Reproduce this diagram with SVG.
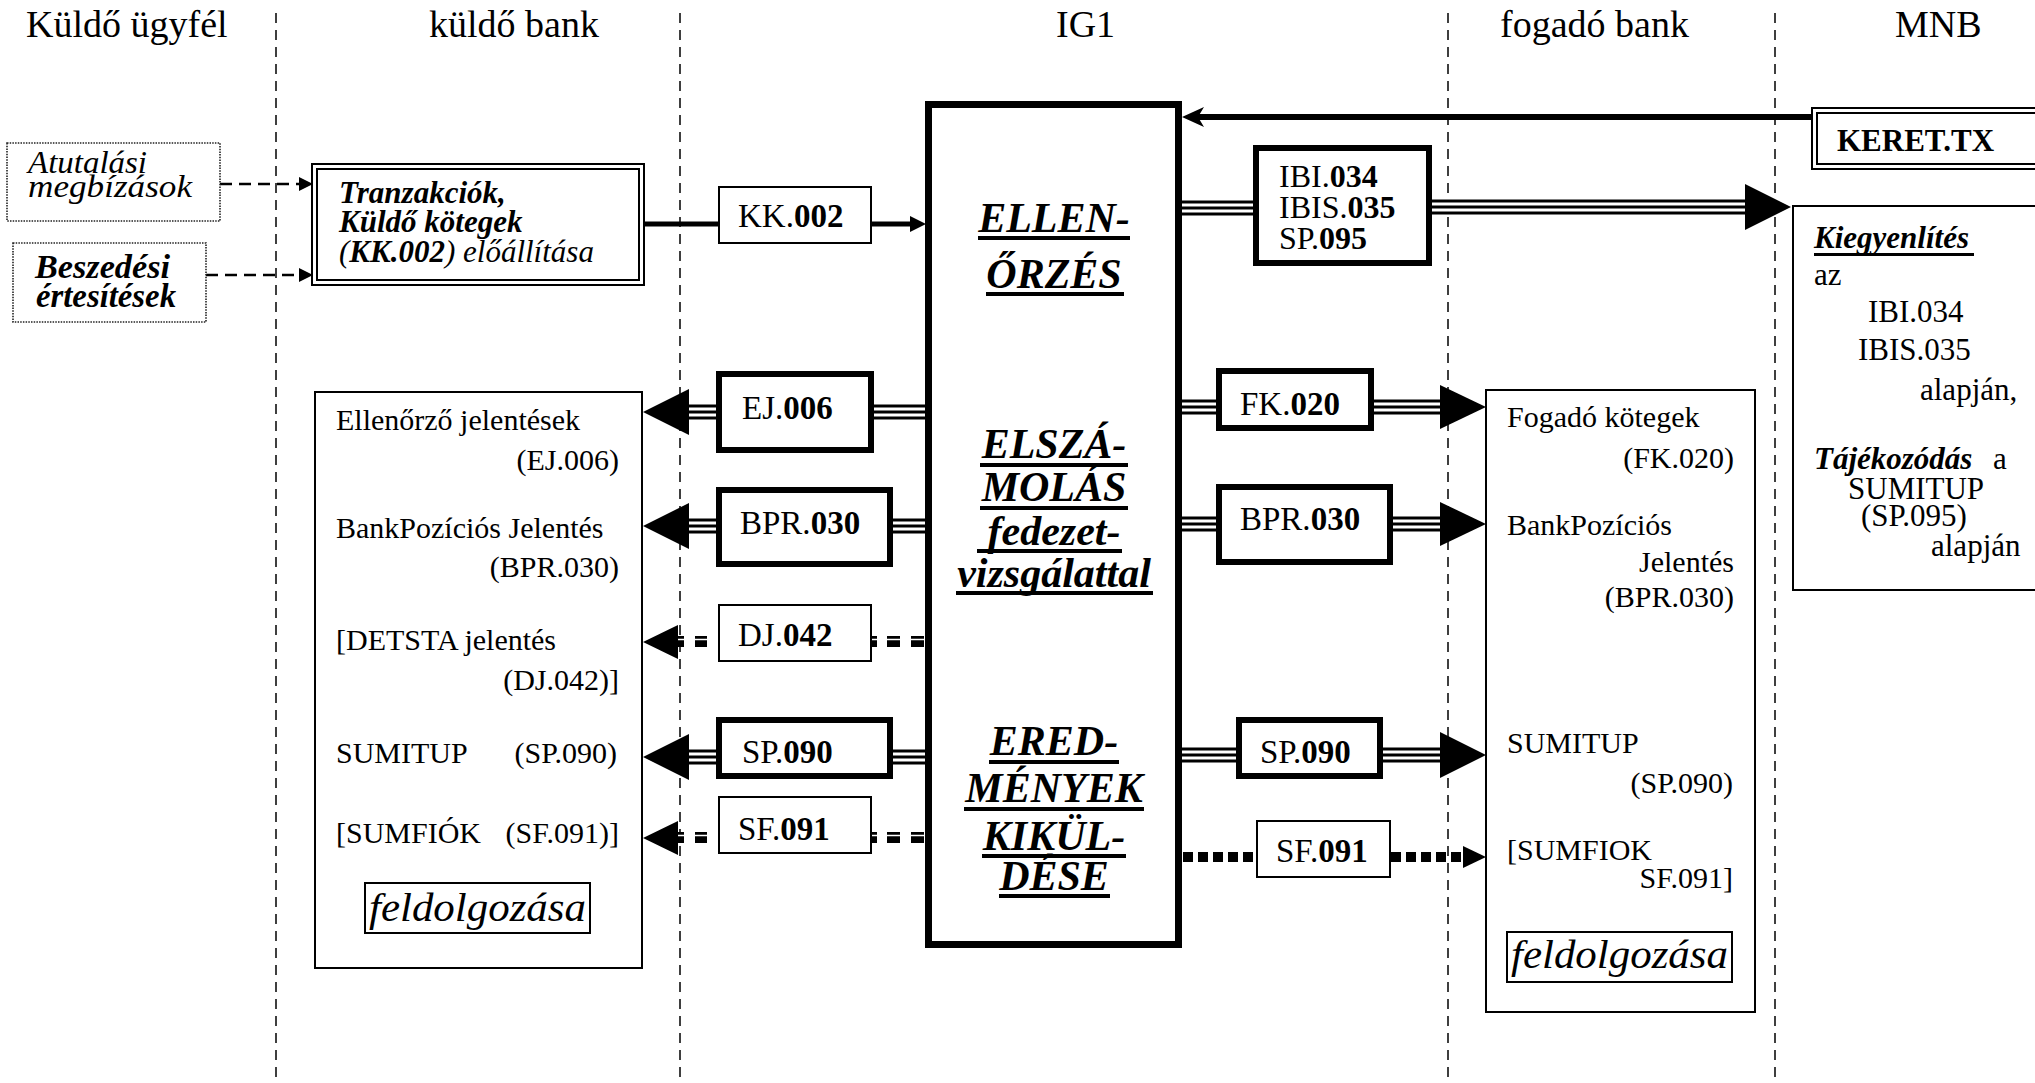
<svg xmlns="http://www.w3.org/2000/svg" width="2035" height="1083" viewBox="0 0 2035 1083">
<style>
text { font-family: "Liberation Serif", "Times New Roman", serif; fill: #000; }
.title { font-size: 38px; }
.lbl { font-size: 30px; }
.code { font-size: 33px; }
.mnb { font-size: 31px; }
.tr { font-size: 31px; font-weight: bold; font-style: italic; }
.cl { font-size: 32px; font-style: italic; }
.clb { font-size: 33px; font-style: italic; font-weight: bold; }
.b { font-weight: bold; }
.i { font-style: italic; }
.n { font-weight: normal; }
.big { font-size: 42px; font-weight: bold; font-style: italic; text-anchor: middle; }
.feld { font-size: 40px; font-style: italic; }
.end { text-anchor: end; }
.sep { stroke: #000; stroke-width: 1.5; stroke-dasharray: 10 7; fill: none; }
.thin { fill: #fff; stroke: #000; stroke-width: 2; }
.thick { fill: #fff; stroke: #000; stroke-width: 6; }
.dotbox { fill: #fff; stroke: #222; stroke-width: 1.6; stroke-dasharray: 1.5 1.2; }
.t1 { stroke: #000; stroke-width: 15; fill: none; }
.t2 { stroke: #fff; stroke-width: 9; fill: none; }
.t3 { stroke: #000; stroke-width: 3; fill: none; }
.dq { stroke: #000; stroke-width: 11; fill: none; }
.dqs { stroke: #fff; stroke-width: 1.4; fill: none; }
.dr { stroke: #000; stroke-width: 10; stroke-dasharray: 10 5; fill: none; }
.solid { stroke: #000; stroke-width: 5; fill: none; }
.dash { stroke: #000; stroke-width: 2.5; stroke-dasharray: 12 7; fill: none; }
.head { fill: #000; stroke: none; }
.ul { fill: #000; }
</style>
<defs>
  <path id="triple" d="M689 412 H716 M874 412 H926 M689 526 H716 M893 526 H926 M689 757 H716 M893 757 H926 M1182 208 H1253 M1432 207 H1746 M1182 407 H1216 M1374 407 H1441 M1182 524 H1216 M1393 524 H1441 M1182 755 H1236 M1383 755 H1441"/>
</defs>

<g id="separators">
  <line class="sep" x1="276" y1="13" x2="276" y2="1083"/>
  <line class="sep" x1="680" y1="13" x2="680" y2="1083"/>
  <line class="sep" x1="1448" y1="13" x2="1448" y2="1083"/>
  <line class="sep" x1="1775" y1="13" x2="1775" y2="1083"/>
</g>

<g id="headers">
  <text class="title" x="26" y="37">Küldő ügyfél</text>
  <text class="title" x="429" y="37">küldő bank</text>
  <text class="title" x="1056" y="37">IG1</text>
  <text class="title" x="1500" y="37">fogadó bank</text>
  <text class="title" x="1895" y="37">MNB</text>
</g>

<g id="connectors">
  <path class="dash" d="M220 184 H300 M206 275 H300"/>
  <polygon class="head" points="313,184 299,177 299,191"/>
  <polygon class="head" points="313,275 299,268 299,282"/>
  <path class="solid" d="M645 224 H718 M872 224 H912"/>
  <polygon class="head" points="926,224 910,216 910,232"/>
  <path class="solid" style="stroke-width:6" d="M1811 117 H1196"/>
  <path class="head" d="M1182 117 L1204 107 L1198 117 L1204 127 Z"/>
  <use href="#triple" class="t1"/>
  <use href="#triple" class="t2"/>
  <use href="#triple" class="t3"/>
  <polygon class="head" points="643,412 689,389 689,435"/>
  <polygon class="head" points="643,526 689,503 689,549"/>
  <polygon class="head" points="643,757 689,734 689,780"/>
  <polygon class="head" points="1791,207 1745,184 1745,230"/>
  <polygon class="head" points="1486,407 1440,385 1440,429"/>
  <polygon class="head" points="1486,524 1440,502 1440,546"/>
  <polygon class="head" points="1486,755 1440,732 1440,778"/>
  <path class="dq" d="M678 641.5 H684 M695 641.5 H707 M872 641.5 H877 M887 641.5 H900 M911 641.5 H924"/>
  <path class="dqs" d="M676 639.5 H926"/>
  <polygon class="head" points="643,642 678,625 678,659"/>
  <path class="dq" d="M678 837.5 H684 M695 837.5 H707 M872 837.5 H877 M887 837.5 H900 M911 837.5 H924"/>
  <path class="dqs" d="M676 835.5 H926"/>
  <polygon class="head" points="643,838 678,821 678,855"/>
  <path class="dr" d="M1183 857 H1256 M1391 857 H1463"/>
  <polygon class="head" points="1486,857 1463,846 1463,868"/>
</g>

<g id="node-atutalasi">
  <rect class="dotbox" x="7" y="143" width="213" height="78"/>
  <text class="cl" x="28" y="173" textLength="119" lengthAdjust="spacingAndGlyphs">Atutalási</text>
  <text class="cl" x="28" y="197" textLength="164" lengthAdjust="spacingAndGlyphs">megbízások</text>
</g>
<g id="node-beszedesi">
  <rect class="dotbox" x="13" y="243" width="193" height="79"/>
  <text class="clb" x="35" y="278" textLength="135" lengthAdjust="spacingAndGlyphs">Beszedési</text>
  <text class="clb" x="36" y="307" textLength="140" lengthAdjust="spacingAndGlyphs">értesítések</text>
</g>

<g id="node-tranzakciok">
  <rect class="thin" x="312" y="164" width="332" height="121"/>
  <rect class="thin" x="317" y="169" width="322" height="111"/>
  <text class="tr" x="339" y="203">Tranzakciók,</text>
  <text class="tr" x="339" y="232">Küldő kötegek</text>
  <text class="tr" x="339" y="262"><tspan class="n">(</tspan>KK.002<tspan class="n">) előállítása</tspan></text>
</g>

<g id="node-kk002">
  <rect class="thin" x="719" y="187" width="152" height="56"/>
  <text class="code" x="738" y="227">KK.<tspan class="b">002</tspan></text>
</g>

<g id="node-ig1">
  <rect x="928.5" y="104.5" width="250" height="840" fill="#fff" stroke="#000" stroke-width="7"/>
  <text class="big" x="1054" y="232">ELLEN-</text>
  <rect class="ul" x="978" y="236" width="152" height="4"/>
  <text class="big" x="1054" y="288">ŐRZÉS</text>
  <rect class="ul" x="986" y="292" width="138" height="4"/>
  <text class="big" x="1054" y="458">ELSZÁ-</text>
  <rect class="ul" x="980" y="463" width="148" height="4"/>
  <text class="big" x="1054" y="501">MOLÁS</text>
  <rect class="ul" x="980" y="506" width="148" height="4"/>
  <text class="big" x="1054" y="545">fedezet-</text>
  <rect class="ul" x="977" y="549" width="145" height="4"/>
  <text class="big" x="1054" y="587">vizsgálattal</text>
  <rect class="ul" x="956" y="591" width="197" height="4"/>
  <text class="big" x="1054" y="755">ERED-</text>
  <rect class="ul" x="989" y="760" width="130" height="4"/>
  <text class="big" x="1054" y="802">MÉNYEK</text>
  <rect class="ul" x="964" y="807" width="180" height="4"/>
  <text class="big" x="1054" y="850">KIKÜL-</text>
  <rect class="ul" x="982" y="854" width="144" height="4"/>
  <text class="big" x="1054" y="890">DÉSE</text>
  <rect class="ul" x="999" y="894" width="111" height="4"/>
</g>

<g id="node-ibi">
  <rect class="thick" x="1256" y="148" width="173" height="115"/>
  <text class="code" style="font-size:32px" x="1279" y="187">IBI.<tspan class="b">034</tspan></text>
  <text class="code" style="font-size:32px" x="1279" y="218">IBIS.<tspan class="b">035</tspan></text>
  <text class="code" style="font-size:32px" x="1279" y="249">SP.<tspan class="b">095</tspan></text>
</g>

<g id="node-keret">
  <rect class="thin" x="1812" y="108" width="240" height="61"/>
  <rect class="thin" x="1817" y="113" width="230" height="51"/>
  <text class="b" style="font-size:31px" x="1837" y="151">KERET.TX</text>
</g>

<g id="node-mnb">
  <rect class="thin" x="1793" y="206" width="260" height="384"/>
  <text class="mnb b i" x="1814" y="248">Kiegyenlítés</text>
  <rect class="ul" x="1814" y="253" width="160" height="3"/>
  <text class="mnb" x="1814" y="285">az</text>
  <text class="mnb" x="1868" y="322">IBI.034</text>
  <text class="mnb" x="1858" y="360">IBIS.035</text>
  <text class="mnb" x="1920" y="400">alapján,</text>
  <text class="mnb b i" x="1814" y="469">Tájékozódás</text>
  <text class="mnb" x="1993" y="469">a</text>
  <text class="mnb" x="1848" y="499">SUMITUP</text>
  <text class="mnb" x="1861" y="526">(SP.095)</text>
  <text class="mnb" x="1931" y="556">alapján</text>
</g>

<g id="node-kuldo-bank">
  <rect class="thin" x="315" y="392" width="327" height="576"/>
  <text class="lbl" x="336" y="430">Ellenőrző jelentések</text>
  <text class="lbl end" x="619" y="470">(EJ.006)</text>
  <text class="lbl" x="336" y="538">BankPozíciós Jelentés</text>
  <text class="lbl end" x="619" y="577">(BPR.030)</text>
  <text class="lbl" x="336" y="650">[DETSTA jelentés</text>
  <text class="lbl end" x="619" y="690">(DJ.042)]</text>
  <text class="lbl" x="336" y="763">SUMITUP</text>
  <text class="lbl end" x="617" y="763">(SP.090)</text>
  <text class="lbl" x="336" y="843">[SUMFIÓK</text>
  <text class="lbl end" x="619" y="843">(SF.091)]</text>
  <rect class="thin" x="365" y="883" width="225" height="50"/>
  <text class="feld" x="369" y="921" textLength="217" lengthAdjust="spacingAndGlyphs">feldolgozása</text>
</g>

<g id="node-ej006">
  <rect class="thick" x="719" y="374" width="152" height="76"/>
  <text class="code" x="742" y="419">EJ.<tspan class="b">006</tspan></text>
</g>
<g id="node-bpr030-l">
  <rect class="thick" x="719" y="490" width="171" height="74"/>
  <text class="code" x="740" y="534">BPR.<tspan class="b">030</tspan></text>
</g>
<g id="node-dj042">
  <rect class="thin" x="719" y="605" width="152" height="56"/>
  <text class="code" x="738" y="646">DJ.<tspan class="b">042</tspan></text>
</g>
<g id="node-sp090-l">
  <rect class="thick" x="719" y="720" width="171" height="56"/>
  <text class="code" x="742" y="763">SP.<tspan class="b">090</tspan></text>
</g>
<g id="node-sf091-l">
  <rect class="thin" x="719" y="797" width="152" height="56"/>
  <text class="code" x="738" y="840">SF.<tspan class="b">091</tspan></text>
</g>

<g id="node-fk020">
  <rect class="thick" x="1219" y="371" width="152" height="57"/>
  <text class="code" x="1240" y="415">FK.<tspan class="b">020</tspan></text>
</g>
<g id="node-bpr030-r">
  <rect class="thick" x="1219" y="487" width="171" height="75"/>
  <text class="code" x="1240" y="530">BPR.<tspan class="b">030</tspan></text>
</g>
<g id="node-sp090-r">
  <rect class="thick" x="1239" y="720" width="141" height="56"/>
  <text class="code" x="1260" y="763">SP.<tspan class="b">090</tspan></text>
</g>
<g id="node-sf091-r">
  <rect class="thin" x="1257" y="821" width="133" height="56"/>
  <text class="code" x="1276" y="862">SF.<tspan class="b">091</tspan></text>
</g>

<g id="node-fogado-bank">
  <rect class="thin" x="1486" y="390" width="269" height="622"/>
  <text class="lbl" x="1507" y="427">Fogadó kötegek</text>
  <text class="lbl end" x="1734" y="468">(FK.020)</text>
  <text class="lbl" x="1507" y="535">BankPozíciós</text>
  <text class="lbl end" x="1734" y="572">Jelentés</text>
  <text class="lbl end" x="1734" y="607">(BPR.030)</text>
  <text class="lbl" x="1507" y="753">SUMITUP</text>
  <text class="lbl end" x="1733" y="793">(SP.090)</text>
  <text class="lbl" x="1507" y="860">[SUMFIOK</text>
  <text class="lbl end" x="1733" y="888">SF.091]</text>
  <rect class="thin" x="1507" y="932" width="225" height="50"/>
  <text class="feld" x="1511" y="968" textLength="217" lengthAdjust="spacingAndGlyphs">feldolgozása</text>
</g>
</svg>
